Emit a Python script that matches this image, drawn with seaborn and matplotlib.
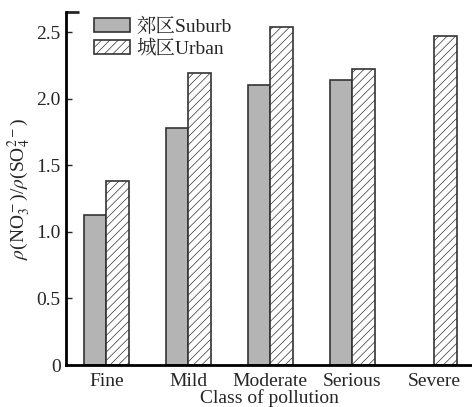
import matplotlib
matplotlib.use("Agg")
import matplotlib.pyplot as plt
import seaborn as sns
import pandas as pd
import numpy as np

categories = ["Fine", "Mild", "Moderate", "Serious", "Severe"]
suburb = [1.13, 1.78, 2.10, 2.14, np.nan]
urban = [1.38, 2.19, 2.54, 2.22, 2.47]
series_names = ["郊区Suburb", "城区Urban"]
yticks = [0, 0.5, 1.0, 1.5, 2.0, 2.5]
yticklabels = ["0", "0.5", "1.0", "1.5", "2.0", "2.5"]

sns.set_theme(style="white")
plt.rcParams["font.family"] = ["Liberation Serif", "Noto Serif CJK SC", "Noto Sans CJK SC"]
plt.rcParams["mathtext.fontset"] = "stix"
plt.rcParams["hatch.linewidth"] = 0.5

df = pd.DataFrame({
    "cls": categories * 2,
    "val": suburb + urban,
    "series": [series_names[0]] * 5 + [series_names[1]] * 5,
})

fig = plt.figure(figsize=(4.72, 4.07), dpi=100)
ax = fig.add_axes([0.14, 0.103, 0.86, 0.867])

sns.barplot(data=df, x="cls", y="val", hue="series", order=categories,
            hue_order=series_names, width=0.55, ax=ax, errorbar=None,
            palette=["#b4b4b4", "white"], saturation=1, legend=True)

for i, cont in enumerate(ax.containers):
    for p in cont:
        p.set_edgecolor("#333333")
        p.set_linewidth(1.2)
        if i == 1:
            p.set_hatch("////")

ax.set_ylim(0, 2.65)
ax.set_xlim(-0.49, 4.46)
ax.set_yticks(yticks)
ax.set_yticklabels(yticklabels)
ax.set_yticks([2.65], minor=True)
ax.tick_params(axis="y", which="major", direction="in", length=4, width=1,
               labelsize=14, pad=4, left=True)
ax.tick_params(axis="y", which="minor", direction="in", length=9, width=2, left=True)
ax.tick_params(axis="x", length=0, labelsize=14, pad=6)
ax.set_xlabel("Class of pollution", fontsize=14, labelpad=-1)
ax.set_ylabel(r"$\rho$(NO$_3^-$)/$\rho$(SO$_4^{2-}$)", fontsize=14, labelpad=2)

for s in ["top", "right"]:
    ax.spines[s].set_visible(False)
for s in ["left", "bottom"]:
    ax.spines[s].set_linewidth(2)
    ax.spines[s].set_color("black")

handles, labels = ax.get_legend_handles_labels()
for h in handles:
    h.set_edgecolor("#333333")
    h.set_linewidth(1.2)
handles[1].set_hatch("////")
ax.legend(handles, labels, loc="upper left", bbox_to_anchor=(0.07, 0.985),
          frameon=False, fontsize=14, handlelength=1.85, handleheight=0.72,
          handletextpad=0.3, labelspacing=0.2, borderaxespad=0, borderpad=0)

fig.savefig("out.png", dpi=100)
